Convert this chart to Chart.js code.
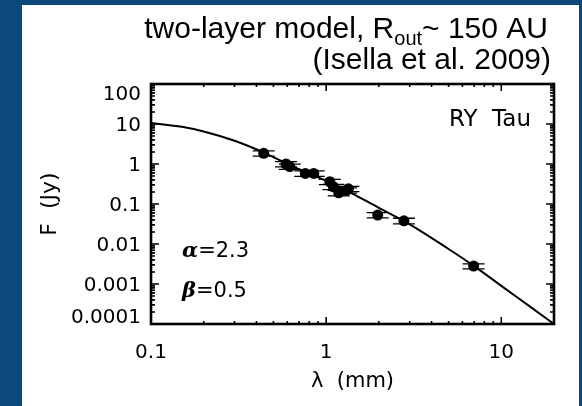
<!DOCTYPE html>
<html>
<head>
<meta charset="utf-8">
<title>RY Tau SED</title>
<script src="https://cdn.jsdelivr.net/npm/chart.js"></script>
<style>
  body { margin: 0; background-color: #0b477b; }
  #panel { position: absolute; left: 22px; top: 5px; width: 557px; height: 401px; background: #fff; }
</style>
</head>
<body>
<div id="panel"><canvas id="sedChart" width="557" height="401"></canvas></div>
<script>
// observed fluxes (mm, Jy) with errors
const lambdaObs = [0.44, 0.59, 0.62, 0.76, 0.85, 1.05, 1.1, 1.18, 1.3, 1.34, 1.97, 2.78, 6.95];
const fluxObs   = [1.85, 1.0, 0.86, 0.58, 0.58, 0.36, 0.27, 0.19, 0.22, 0.24, 0.053, 0.038, 0.0028];
const fluxErr   = [0.28, 0.15, 0.13, 0.09, 0.09, 0.054, 0.04, 0.03, 0.033, 0.036, 0.008, 0.006, 0.0004];

// two-layer model curve
const lambdaModel = [0.1, 0.15, 0.2, 0.3, 0.45, 0.6, 0.8, 1.0, 1.3, 2.0, 3.0, 5.0, 7.0, 10, 15, 20];
const fluxModel   = [10.6, 8.5, 6.5, 3.8, 1.85, 1.0, 0.57, 0.38, 0.22, 0.08, 0.031, 0.0075, 0.0028, 0.0009, 0.00025, 0.0001];

const xTicks = [0.1, 1, 10];
const xTickLabels = ['0.1', '1', '10'];
const yTicks = [0.0001, 0.001, 0.01, 0.1, 1, 10, 100];
const yTickLabels = ['0.0001', '0.001', '0.01', '0.1', '1', '10', '100'];

const titleLine1 = ['two-layer model, R', 'out', '~ 150 AU'];
const titleLine2 = '(Isella et al. 2009)';
const sourceName = 'RY  Tau';
const paramAlpha = ['α', '=2.3'];
const paramBeta = ['β', '=0.5'];

Chart.defaults.font.family = 'DejaVu Sans';
Chart.defaults.color = '#000';

// frame with inward log ticks on all four sides
const framePlugin = {
  id: 'frame',
  afterDraw(chart) {
    const { ctx, chartArea: a, scales } = chart;
    ctx.save();
    ctx.strokeStyle = '#000';
    ctx.lineWidth = 1.6;
    const xs = scales.x, ys = scales.y;
    for (let d = -5; d <= 2; d++) {
      for (let m = 1; m <= 9; m++) {
        const v = m * Math.pow(10, d);
        if (v >= ys.min * 0.999 && v <= ys.max * 1.001) {
          const py = ys.getPixelForValue(v);
          const len = m === 1 ? 8 : 4;
          ctx.beginPath();
          ctx.moveTo(a.left, py); ctx.lineTo(a.left + len, py);
          ctx.moveTo(a.right, py); ctx.lineTo(a.right - len, py);
          ctx.stroke();
        }
        if (v >= xs.min * 0.999 && v <= xs.max * 1.001) {
          const px = xs.getPixelForValue(v);
          const len = m === 1 ? 7 : 3;
          ctx.beginPath();
          ctx.moveTo(px, a.bottom); ctx.lineTo(px, a.bottom - len);
          ctx.moveTo(px, a.top); ctx.lineTo(px, a.top + len);
          ctx.stroke();
        }
      }
    }
    ctx.lineWidth = 2.6;
    ctx.strokeRect(a.left, a.top, a.right - a.left, a.bottom - a.top);
    ctx.restore();
  }
};

// error bar caps around observed points
const errorPlugin = {
  id: 'errorCaps',
  afterDatasetsDraw(chart) {
    const { ctx, scales } = chart;
    ctx.save();
    ctx.strokeStyle = '#000';
    ctx.lineWidth = 1.3;
    lambdaObs.forEach((lam, i) => {
      const px = scales.x.getPixelForValue(lam);
      const hi = scales.y.getPixelForValue(fluxObs[i] + fluxErr[i]);
      const lo = scales.y.getPixelForValue(fluxObs[i] - fluxErr[i]);
      ctx.beginPath();
      ctx.moveTo(px - 11, hi); ctx.lineTo(px + 11, hi);
      ctx.moveTo(px - 11, lo); ctx.lineTo(px + 11, lo);
      ctx.moveTo(px, hi); ctx.lineTo(px, lo);
      ctx.stroke();
    });
    ctx.restore();
  }
};

// title above the plot and labels inside it
const textPlugin = {
  id: 'texts',
  afterDraw(chart) {
    const { ctx, chartArea: a } = chart;
    ctx.save();
    ctx.fillStyle = '#000';
    ctx.textBaseline = 'alphabetic';
    ctx.textAlign = 'left';

    const big = '30px "Liberation Sans"';
    const small = '20px "Liberation Sans"';
    ctx.font = big;
    const w0 = ctx.measureText(titleLine1[0]).width;
    const w2 = ctx.measureText(titleLine1[2]).width;
    ctx.font = small;
    const w1 = ctx.measureText(titleLine1[1]).width;
    const right1 = 526;
    let x = right1 - (w0 + w1 + w2);
    ctx.font = big;
    ctx.fillText(titleLine1[0], x, 33);
    ctx.font = small;
    ctx.fillText(titleLine1[1], x + w0, 40);
    ctx.font = big;
    ctx.fillText(titleLine1[2], x + w0 + w1, 33);
    ctx.textAlign = 'right';
    ctx.fillText(titleLine2, 529, 64);

    ctx.font = '23px "DejaVu Sans"';
    ctx.fillText(sourceName, a.right - 23, a.top + 42);

    ctx.textAlign = 'left';
    [[paramAlpha, a.bottom - 67], [paramBeta, a.bottom - 27]].forEach(([p, yb]) => {
      ctx.font = 'italic bold 21px "DejaVu Serif"';
      ctx.fillText(p[0], a.left + 31, yb);
      const wg = ctx.measureText(p[0]).width;
      ctx.font = '21px "DejaVu Sans"';
      ctx.fillText(p[1], a.left + 31 + wg, yb);
    });
    ctx.restore();
  }
};

// end labels of the y axis sit inside the frame
function yLabel(v, i) {
  const t = yTickLabels[i];
  if (i === yTickLabels.length - 1) return ['', t];
  if (i === 0) return [t, ''];
  return t;
}

const ctx = document.getElementById('sedChart').getContext('2d');
const chart = new Chart(ctx, {
  type: 'scatter',
  data: {
    datasets: [
      {
        label: 'model',
        data: lambdaModel.map((l, i) => ({ x: l, y: fluxModel[i] })),
        showLine: true,
        borderColor: '#000',
        borderWidth: 2,
        pointRadius: 0,
        cubicInterpolationMode: 'monotone'
      },
      {
        label: 'RY Tau',
        data: lambdaObs.map((l, i) => ({ x: l, y: fluxObs[i] })),
        showLine: false,
        pointRadius: 5.5,
        backgroundColor: '#000',
        borderColor: '#000',
        borderWidth: 0
      }
    ]
  },
  options: {
    responsive: false,
    animation: false,
    layout: { padding: { top: 79, right: 25, left: 0, bottom: 0 } },
    plugins: {
      legend: { display: false },
      tooltip: { enabled: false }
    },
    scales: {
      x: {
        type: 'logarithmic',
        position: 'bottom',
        min: 0.1,
        max: 20,
        grid: { display: false, drawTicks: false },
        border: { display: false },
        afterBuildTicks: s => { s.ticks = xTicks.map(v => ({ value: v })); },
        afterFit: s => { s.height = 82; },
        ticks: {
          autoSkip: false,
          maxRotation: 0,
          padding: 17,
          font: { size: 20 },
          callback: (v, i) => xTickLabels[i]
        },
        title: { display: true, text: 'λ  (mm)', font: { size: 21 }, padding: { top: 12, bottom: 12 } }
      },
      y: {
        type: 'logarithmic',
        min: 0.0001,
        max: 100,
        grid: { display: false, drawTicks: false },
        border: { display: false },
        afterBuildTicks: s => { s.ticks = yTicks.map(v => ({ value: v })); },
        afterFit: s => { s.width = 129; },
        ticks: {
          autoSkip: false,
          padding: 10,
          labelOffset: 2,
          font: { size: 20, lineHeight: '17px' },
          callback: yLabel
        },
        title: { display: true, text: 'F  (Jy)', font: { size: 22 }, padding: { top: 15, bottom: 15 } }
      }
    }
  },
  plugins: [framePlugin, errorPlugin, textPlugin]
});
</script>
</body>
</html>
